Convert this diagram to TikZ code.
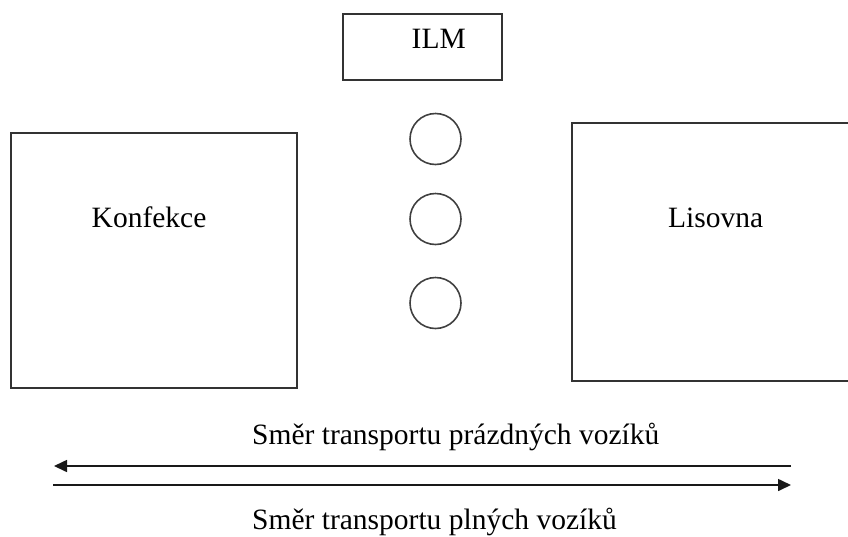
\documentclass[tikz,border=0pt]{standalone}
\usepackage{fontspec}
\setmainfont{Liberation Serif}
\usetikzlibrary{arrows.meta}
\begin{document}
\begin{tikzpicture}[x=1pt,y=-1pt,
  hall/.style={draw=black!80, line width=1.7pt, rectangle, inner sep=0pt},
  buffer/.style={draw=black!75, line width=1.6pt, circle, inner sep=0pt, minimum size=51pt},
  label/.style={anchor=base west, inner sep=0pt, font=\fontsize{29.5}{34}\selectfont},
  flow/.style={line width=1.6pt, draw=black!90, -{Triangle[length=13pt,width=12pt]}}]
  \useasboundingbox (0,0) rectangle (848,536);
  \clip (0,0) rectangle (848,536);
  % halls
  \node[hall, minimum width=159pt, minimum height=66pt] (ilm) at (422.5,47) {};
  \node[hall, minimum width=286pt, minimum height=255pt] (konf) at (154,260.5) {};
  \node[hall, minimum width=300pt, minimum height=258pt] (lis) at (722,252) {};
  \node[label] (ilmtext) at (411.5,48) {ILM};
  \node[label] (konftext) at (91.5,227) {Konfekce};
  \node[label] (listext) at (668,227) {Lisovna};
  % buffer stations
  \node[buffer] (b1) at (435.5,139) {};
  \node[buffer] (b2) at (435.5,219) {};
  \node[buffer] (b3) at (435.5,303) {};
  % transport directions
  \coordinate (e1) at (791,466);
  \coordinate (w1) at (54,466);
  \coordinate (w2) at (53,485);
  \coordinate (e2) at (791,485);
  \draw[flow] (e1) -- (w1);
  \draw[flow] (w2) -- (e2);
  \node[label] (empty) at (252,444) {Směr transportu prázdných vozíků};
  \node[label] (full) at (252,529) {Směr transportu plných vozíků};
\end{tikzpicture}
\end{document}
